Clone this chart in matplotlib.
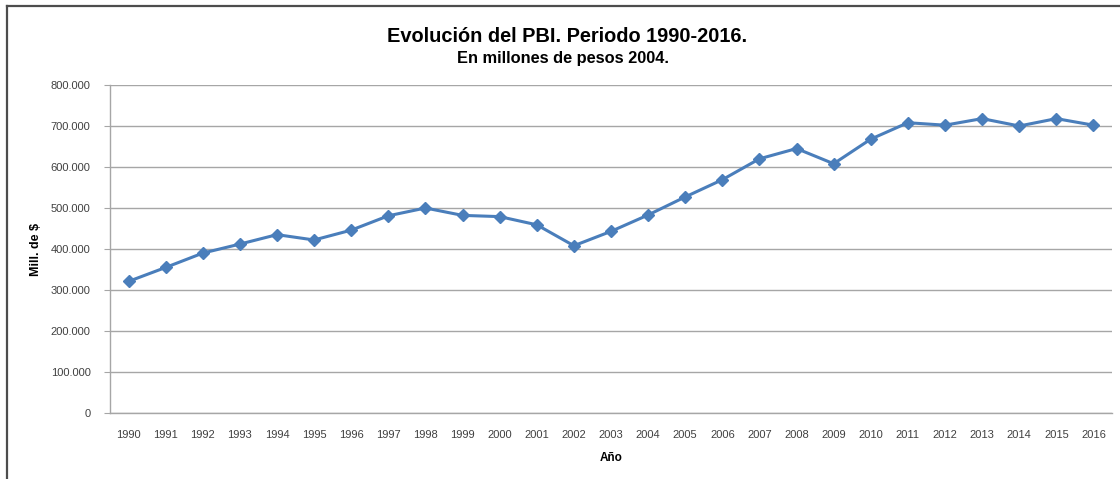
import matplotlib
matplotlib.use("Agg")
import matplotlib.pyplot as plt
from matplotlib.lines import Line2D
from matplotlib.ticker import FuncFormatter

years = [str(y) for y in range(1990, 2017)]
pbi = [321000, 355000, 390000, 412000, 435000, 422000, 446000, 481000, 500000,
       482000, 479000, 459000, 408000, 443000, 483000, 527000, 569000, 620000,
       645000, 608000, 668000, 708000, 702000, 718000, 700000, 718000, 702000]
y_ticks = [0, 100000, 200000, 300000, 400000, 500000, 600000, 700000, 800000]

plt.rcParams['font.family'] = ['Liberation Sans', 'DejaVu Sans']

W, H = 1120, 479
fig = plt.figure(figsize=(W / 100, H / 100), dpi=100)
fig.patch.set_facecolor('white')

ax = fig.add_axes([110 / W, 1 - 413 / H, (1112 - 110) / W, (413 - 85) / H])
x = list(range(len(years)))
ax.plot(x, pbi, color='#4A7EBB', lw=2.2, marker='D', markersize=6.5,
        markerfacecolor='#4A7EBB', markeredgecolor='#4A7EBB', zorder=3)

ax.set_xlim(-0.5, len(years) - 0.5)
ax.set_ylim(0, 800000)
ax.set_xticks(x)
ax.set_xticklabels(years)
ax.set_yticks(y_ticks)
ax.yaxis.set_major_formatter(FuncFormatter(lambda v, p: '0' if v == 0 else f"{int(v):,}".replace(',', '.')))

grid_col = '#A6A6A6'
ax.grid(axis='y', color=grid_col, lw=1.0)
ax.set_axisbelow(True)
for s in ['top', 'right']:
    ax.spines[s].set_visible(False)
for s in ['left', 'bottom']:
    ax.spines[s].set_color(grid_col)
    ax.spines[s].set_linewidth(1.0)
ax.tick_params(axis='y', length=4, color=grid_col, labelsize=8, labelcolor='#404040', pad=10)
ax.tick_params(axis='x', length=0, labelsize=8, labelcolor='#404040', pad=12)

ax.set_ylabel('Mill. de $', fontsize=9, fontweight='bold', labelpad=6)
ax.set_xlabel('Año', fontsize=8.5, fontweight='bold', labelpad=9)

fig.text(567 / W, 1 - 36 / H, 'Evolución del PBI. Periodo 1990-2016.', ha='center', va='center',
         fontsize=14.4, fontweight='bold', color='black')
fig.text(563 / W, 1 - 59 / H, 'En millones de pesos 2004.', ha='center', va='center',
         fontsize=11.8, fontweight='bold', color='black')

# chart border (left and top visible)
fig.add_artist(Line2D([6.5 / W, 6.5 / W], [0, 1 - 5.5 / H], transform=fig.transFigure,
                      color='#4D4D4D', lw=1.6))
fig.add_artist(Line2D([6.5 / W, 1], [1 - 5.5 / H, 1 - 5.5 / H], transform=fig.transFigure,
                      color='#4D4D4D', lw=1.6))

fig.savefig('out.png', dpi=100, facecolor='white')
